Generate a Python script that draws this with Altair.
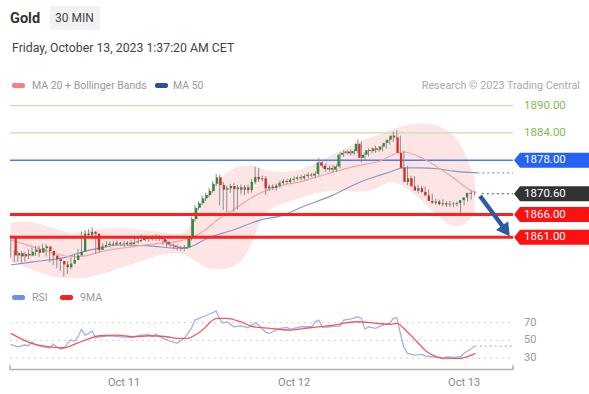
import altair as alt
import pandas as pd

# ---------------- data ----------------
first_open = 1861.2
closes = [
    1857.0, 1857.5, 1856.8, 1857.3, 1857.0, 1857.8, 1858.3, 1857.6, 1858.6, 1859.0,
    1858.0, 1857.0, 1856.2, 1855.8, 1855.0, 1854.4, 1855.2, 1856.0, 1857.0, 1857.8,
    1861.8, 1861.5, 1862.2, 1861.8, 1858.2, 1859.0, 1859.3, 1859.6, 1859.4, 1859.8,
    1859.6, 1859.5, 1859.8, 1859.5, 1859.9, 1860.1, 1860.4, 1860.9, 1860.6, 1861.0,
    1860.7, 1861.1, 1860.6, 1860.0, 1859.4, 1859.2, 1858.9, 1858.7, 1858.5, 1858.8,
    1860.8, 1865.0, 1867.5, 1868.5, 1869.6, 1870.3, 1871.2, 1872.8, 1874.2, 1872.5,
    1871.5, 1871.8, 1872.3, 1871.6, 1872.0, 1871.5, 1872.0, 1871.4, 1873.2, 1874.3,
    1873.8, 1874.0, 1871.8, 1872.2, 1871.9, 1872.4, 1873.0, 1873.4, 1873.2, 1873.7,
    1873.9, 1874.2, 1874.0, 1874.5, 1874.8, 1874.6, 1875.0, 1877.5, 1876.8, 1876.0,
    1876.3, 1875.9, 1876.6, 1879.2, 1879.6, 1879.9, 1879.5, 1880.0, 1881.6, 1878.5,
    1879.2, 1880.2, 1880.0, 1880.6, 1880.3, 1881.0, 1881.8, 1882.5, 1883.4, 1883.0,
    1879.6, 1876.3, 1873.2, 1874.0, 1872.2, 1871.3, 1871.8, 1871.0, 1870.2, 1869.0,
    1868.6, 1868.9, 1868.3, 1868.5, 1868.2, 1868.4, 1868.3, 1868.5, 1869.2, 1869.8,
    1870.8, 1870.6,
]
upper_wick = [
    0.3, 0.6, 0.5, 0.7, 0.5, 0.6, 0.5, 0.8, 0.5, 0.6,
    0.5, 0.4, 0.6, 0.5, 0.7, 0.5, 0.6, 0.5, 0.4, 0.6,
    0.5, 0.8, 0.6, 1.0, 0.6, 0.5, 0.4, 0.6, 0.5, 0.4,
    0.5, 0.4, 0.5, 0.4, 0.5, 0.6, 0.5, 0.7, 0.5, 0.4,
    0.5, 0.6, 0.4, 0.5, 0.4, 0.5, 0.4, 0.5, 0.4, 0.5,
    0.4, 0.5, 0.6, 0.5, 0.6, 0.5, 0.7, 0.6, 0.8, 0.6,
    0.7, 0.6, 0.5, 0.7, 0.5, 0.6, 0.5, 0.6, 0.7, 2.2,
    2.0, 0.6, 0.5, 0.4, 0.5, 0.4, 0.5, 0.4, 0.5, 0.4,
    0.5, 0.4, 0.5, 0.4, 0.5, 0.4, 0.5, 1.0, 0.5, 0.6,
    0.5, 0.6, 0.5, 0.5, 0.6, 0.4, 0.5, 0.4, 1.0, 0.5,
    0.5, 0.4, 0.6, 0.5, 0.5, 0.4, 0.5, 0.5, 0.9, 1.2,
    0.4, 0.5, 0.4, 0.6, 0.5, 0.4, 0.5, 0.4, 0.5, 0.4,
    0.5, 0.4, 0.5, 0.4, 0.5, 0.4, 0.5, 0.4, 0.5, 0.4,
    0.5, 0.4,
]
lower_wick = [
    0.5, 1.5, 1.2, 1.6, 1.3, 0.8, 1.0, 0.7, 0.9, 0.8,
    1.2, 1.5, 1.3, 1.6, 1.4, 2.0, 1.5, 1.2, 0.8, 0.6,
    0.6, 0.7, 0.5, 0.6, 0.8, 0.6, 0.5, 0.6, 0.5, 0.4,
    0.5, 0.4, 0.6, 0.4, 0.5, 0.4, 0.5, 0.4, 0.5, 0.6,
    0.4, 0.5, 0.4, 0.6, 0.5, 0.4, 0.5, 0.6, 0.5, 0.6,
    0.4, 0.5, 0.6, 0.5, 0.4, 0.6, 0.5, 0.4, 0.5, 4.5,
    4.5, 5.0, 1.0, 5.0, 4.5, 1.0, 1.2, 0.8, 0.6, 0.5,
    0.6, 0.5, 1.5, 0.6, 0.5, 0.6, 0.5, 0.4, 0.5, 0.4,
    0.5, 0.4, 0.5, 0.4, 0.5, 0.4, 0.5, 0.4, 0.5, 0.6,
    0.5, 0.6, 0.5, 0.4, 0.5, 0.4, 0.5, 0.4, 0.5, 1.0,
    0.5, 0.4, 0.5, 0.4, 0.5, 0.4, 0.5, 0.4, 0.5, 0.4,
    0.5, 0.6, 0.7, 0.6, 0.5, 0.6, 0.5, 0.6, 0.5, 0.6,
    0.5, 0.6, 0.5, 0.6, 0.5, 0.6, 0.5, 2.3, 0.5, 0.4,
    0.5, 0.4,
]

# moving averages / bands (candle index, price)
ma20_idx = [0, 5.5, 11, 17.3, 21, 25.2, 34.3, 42.2, 47.8, 50.6, 54.9, 58.3, 62.8, 68.4,
            72.4, 76.9, 81.7, 86.5, 93, 98.7, 104.3, 107.1, 110.8, 115.6, 120.4, 125, 129.7, 131.4]
ma20_val = [1860.4, 1859.1, 1857.8, 1856.7, 1856.9, 1857.8, 1858.9, 1859.7, 1860.2, 1860.8,
            1862.6, 1864.8, 1867.0, 1869.9, 1871.4, 1872.5, 1873.2, 1874.3, 1875.8, 1876.9,
            1877.8, 1878.9, 1879.8, 1878.7, 1876.5, 1874.1, 1871.4, 1870.8]

band_idx = [0, 5, 11, 17, 21, 25, 34, 42, 48, 51, 55, 58, 63, 66, 68, 70, 72, 77, 82, 87,
            93, 99, 104, 107, 111, 116, 120, 125, 128, 131]
band_upper = [1864.2, 1864.8, 1863.3, 1861.7, 1862.4, 1863.0, 1863.0, 1862.2, 1861.5, 1863.0,
              1869.9, 1873.6, 1876.5, 1876.8, 1876.9, 1876.4, 1875.8, 1875.2, 1875.8, 1877.6,
              1880.2, 1882.4, 1883.5, 1884.6, 1885.7, 1886.2, 1886.0, 1884.0, 1880.2, 1874.1]
band_lower = [1855.6, 1854.2, 1852.3, 1851.8, 1852.0, 1852.7, 1854.9, 1857.3, 1857.8, 1856.4,
              1854.2, 1853.8, 1854.2, 1856.4, 1859.7, 1863.7, 1867.0, 1868.6, 1869.7, 1871.0,
              1871.4, 1870.8, 1871.9, 1873.6, 1872.5, 1869.2, 1865.9, 1863.0, 1863.7, 1865.9]

ma50_idx = [0, 6.3, 16, 20.4, 25.2, 30, 39.3, 47, 50.6, 55.5, 62.8, 70.4, 77, 81.7, 91,
            98.7, 104.3, 107.1, 110.8, 115.6, 120.4, 125, 131.7]
ma50_val = [1854.9, 1855.6, 1856.7, 1857.8, 1858.6, 1859.3, 1859.1, 1858.6, 1858.9, 1860.8,
            1862.6, 1864.8, 1865.9, 1867.5, 1870.3, 1873.2, 1874.7, 1875.4, 1876.3, 1876.3,
            1876.1, 1875.6, 1875.2]

# RSI and its 9MA (candle index, value)
rsi_idx = [0, 2, 4, 5, 6, 7, 9, 10, 11, 12, 13, 14, 15, 16, 17, 18, 19, 20, 21, 22,
           23, 24, 25, 28, 31, 34, 35, 37, 39, 40, 41, 43, 45, 47, 49, 51, 52, 55, 58, 59,
           60, 61, 63, 65, 67, 69, 70, 72, 73, 75, 76, 78, 79, 80, 82, 83, 85, 86, 87, 88,
           90, 92, 93, 94, 96, 98, 99, 100, 101, 103, 105, 107, 108, 109, 110, 111, 112, 114, 116, 117,
           119, 121, 122, 123, 125, 127, 128, 130, 131]
rsi_val = [45.5, 42.7, 44.7, 43.9, 48.4, 44.7, 42.7, 42.0, 40.9, 45.8,
           42.7, 40.1, 40.9, 46.6, 50.3, 49.2, 54.1, 62.5, 56.0, 57.9,
           60.5, 52.9, 54.1, 55.2, 54.1, 53.4, 54.1, 56.0, 56.8, 54.1,
           56.8, 52.3, 49.2, 46.6, 52.3, 63.6, 73.0, 77.9, 83.2, 74.1,
           69.3, 71.1, 65.4, 66.5, 64.3, 70.0, 67.3, 59.1, 57.9, 61.7,
           63.6, 64.7, 62.5, 63.6, 65.4, 65.4, 65.4, 71.1, 73.0, 64.7,
           65.4, 66.2, 66.2, 73.0, 74.1, 76.7, 74.9, 62.5, 65.4, 63.6,
           67.3, 69.3, 74.9, 75.6, 58.0, 42.0, 35.3, 33.3, 34.1, 32.5,
           31.4, 30.3, 28.8, 31.4, 30.7, 31.4, 35.3, 40.5, 43.5]
ma9_idx = [0, 6.4, 11.1, 14.9, 18.6, 22.4, 25.2, 29.9, 34.6, 39.3, 44.1, 46.9, 49.7, 53.5,
           58.2, 61, 64.8, 68.5, 73.2, 78.9, 84.5, 91.1, 97.7, 103.4, 107.1, 109, 111.9,
           114.7, 117.5, 120.3, 124.1, 126.9, 128.8, 131.2]
ma9_val = [57.9, 46.0, 42.7, 41.6, 46.6, 52.3, 55.2, 56.0, 54.1, 55.2, 54.1, 52.3, 52.3, 59.7,
           74.9, 74.9, 71.1, 65.4, 63.6, 61.7, 64.3, 67.3, 71.1, 69.3, 68.1, 69.3, 59.7,
           48.4, 37.1, 31.4, 29.5, 29.5, 31.4, 35.3]

green_levels = [1890.0, 1884.0]
green_labels = ["1890.00", "1884.00"]
tag_levels = [1878.0, 1870.6, 1866.0, 1861.0]
tag_labels = ["1878.00", "1870.60", "1866.00", "1861.00"]
tag_colors = ["#2463f5", "#333333", "#ff1111", "#ff1111"]
red_levels = [1866.0, 1861.0]
blue_levels = [1878.0]
rsi_levels = [70, 50, 30]
day_hours = [0, 24, 48]
day_labels = ["Oct 11", "Oct 12", "Oct 13"]
arrow_h = [50.24, 53.6]
arrow_p = [1870.1, 1863.1]
arrow_head_h = [53.9]
arrow_head_p = [1862.4]

# ---------------- frames ----------------
def idx_to_h(i):
    return -16 + 0.5 * i

opens = [first_open] + closes[:-1]
candles = pd.DataFrame({
    "h": [idx_to_h(i) for i in range(len(closes))],
    "open": opens,
    "close": closes,
})
candles["high"] = [max(o, c) + u for o, c, u in zip(opens, closes, upper_wick)]
candles["low"] = [min(o, c) - l for o, c, l in zip(opens, closes, lower_wick)]

ma20 = pd.DataFrame({"h": [idx_to_h(i) for i in ma20_idx], "p": ma20_val})
band = pd.DataFrame({"h": [idx_to_h(i) for i in band_idx], "up": band_upper, "lo": band_lower})
ma50 = pd.DataFrame({"h": [idx_to_h(i) for i in ma50_idx], "p": ma50_val})
rsi = pd.DataFrame({"h": [idx_to_h(i) for i in rsi_idx], "r": rsi_val})
ma9 = pd.DataFrame({"h": [idx_to_h(i) for i in ma9_idx], "r": ma9_val})

X_SCALE = alt.Scale(domain=[-16.1, 54.9], range=[10, 513], nice=False, zero=False)
P_SCALE = alt.Scale(domain=[1861, 1890], range=[237.3, 105.7], nice=False, zero=False)
R_SCALE = alt.Scale(domain=[30, 70], range=[358, 322.7], nice=False, zero=False)
FONT = "Roboto"


def X(f):
    return alt.X(f, type="quantitative", scale=X_SCALE, axis=None)


def YP(f):
    return alt.Y(f, type="quantitative", scale=P_SCALE, axis=None)


def YR(f):
    return alt.Y(f, type="quantitative", scale=R_SCALE, axis=None)


def txt(s, x, y, size=11, color="#999999", weight="normal", align="left"):
    return alt.Chart(pd.DataFrame({"t": [s]})).mark_text(
        font=FONT, fontSize=size, color=color, fontWeight=weight, align=align, baseline="alphabetic"
    ).encode(x=alt.value(x), y=alt.value(y), text="t:N")


def rect(x, x2, y, y2, color, r=0):
    return alt.Chart(pd.DataFrame({"a": [0]})).mark_rect(color=color, cornerRadius=r).encode(
        x=alt.value(x), x2=alt.value(x2), y=alt.value(y), y2=alt.value(y2)
    )


layers = []

# header
layers.append(txt("Gold", 10, 23, size=14.5, color="#333333", weight="bold"))
layers.append(rect(50, 100, 6, 30, "#f2f2f2", 2))
layers.append(txt("30 MIN", 55, 22, size=12, color="#444444"))
layers.append(txt("Friday, October 13, 2023 1:37:20 AM CET", 12, 52, size=12.3, color="#444444"))

# legend
layers.append(rect(12, 25, 83, 88, "#f77f7f", 2))
layers.append(txt("MA 20 + Bollinger Bands", 32, 89, size=10.5, color="#9a9a9a"))
layers.append(rect(155, 168, 83, 88, "#2f4f9a", 2))
layers.append(txt("MA 50", 173, 89, size=10.5, color="#9a9a9a"))
layers.append(txt("Research \u00a9 2023 Trading Central", 580, 89, size=10.8, color="#aaaaaa", align="right"))

# bollinger cloud
layers.append(alt.Chart(band).mark_area(interpolate="basis", color="#fbd3d3", opacity=0.6).encode(
    x=X("h"), y=YP("up"), y2=alt.Y2("lo")))

# level lines
layers.append(alt.Chart(pd.DataFrame({"p": green_levels})).mark_rule(color="#c3e2ab", strokeWidth=1.2).encode(
    x=alt.value(10), x2=alt.value(513), y=YP("p")))
layers.append(alt.Chart(pd.DataFrame({"p": blue_levels})).mark_rule(color="#4b7cf0", strokeWidth=1.5).encode(
    x=alt.value(10), x2=alt.value(513), y=YP("p")))

# moving averages
layers.append(alt.Chart(ma50).mark_line(interpolate="monotone", color="#8199d0", strokeWidth=1.2).encode(
    x=X("h"), y=YP("p")))
layers.append(alt.Chart(ma20).mark_line(interpolate="monotone", color="#f5a3a3", strokeWidth=1.2).encode(
    x=X("h"), y=YP("p")))
layers.append(alt.Chart(ma50.tail(1)).mark_rule(color="#7d98d6", strokeWidth=1.2, strokeDash=[2, 3]).encode(
    x=X("h"), x2=alt.value(513), y=YP("p")))

# candles
layers.append(alt.Chart(candles).mark_rule(color="#8c8c8c", strokeWidth=1).encode(
    x=X("h"), y=YP("low"), y2=alt.Y2("high")))
layers.append(alt.Chart(candles).mark_bar(size=2.3).encode(
    x=X("h"), y=YP("open"), y2=alt.Y2("close"),
    color=alt.condition("datum.close >= datum.open", alt.value("#2f8a3a"), alt.value("#d42a2a"))))

# red support lines
layers.append(alt.Chart(pd.DataFrame({"p": red_levels})).mark_rule(color="#ff1f1f", strokeWidth=3).encode(
    x=alt.value(10), x2=alt.value(513), y=YP("p")))

# last price dotted
last = candles.tail(1).assign(h2=lambda d: d["h"] + 1.0)
layers.append(alt.Chart(last).mark_rule(color="#555555", strokeWidth=1.2, strokeDash=[2, 3]).encode(
    x=X("h2"), x2=alt.value(513), y=YP("close")))

# arrow
layers.append(alt.Chart(pd.DataFrame({"h": arrow_h, "p": arrow_p})).mark_line(
    color="#2c5ba3", strokeWidth=4.5, strokeCap="butt").encode(x=X("h"), y=YP("p")))
layers.append(alt.Chart(pd.DataFrame({"h": arrow_head_h, "p": arrow_head_p})).mark_point(
    shape="triangle-up", angle=144, size=230, filled=True, opacity=1, color="#2c5ba3").encode(
    x=X("h"), y=YP("p")))

# price labels
layers.append(alt.Chart(pd.DataFrame({"p": green_levels, "t": green_labels})).mark_text(
    font=FONT, fontSize=11.5, color="#7fbc4a", align="left", baseline="middle").encode(
    x=alt.value(524), y=YP("p"), text="t:N"))
TAG = "M-1,0L-0.84,-0.2L1,-0.2L1,0.2L-0.84,0.2Z"
tags = pd.DataFrame({"p": tag_levels, "t": tag_labels, "c": tag_colors})
layers.append(alt.Chart(tags).mark_point(shape=TAG, size=5625, filled=True, opacity=1, strokeWidth=0).encode(
    x=alt.value(551.5), y=YP("p"), color=alt.Color("c:N", scale=None)))
layers.append(alt.Chart(tags).mark_text(font=FONT, fontSize=11.5, color="white", align="left",
                                        baseline="middle").encode(
    x=alt.value(524), y=YP("p"), text="t:N"))

# RSI panel
layers.append(rect(12, 25, 295, 300, "#6f8fea", 2))
layers.append(txt("RSI", 32, 301, size=10.5, color="#9a9a9a"))
layers.append(rect(60, 73, 295, 300, "#ff2020", 2))
layers.append(txt("9MA", 80, 301, size=10.5, color="#9a9a9a"))
layers.append(alt.Chart(pd.DataFrame({"r": rsi_levels})).mark_rule(
    color="#cfcfcf", strokeWidth=1, strokeDash=[2, 4]).encode(
    x=alt.value(10), x2=alt.value(513), y=YR("r")))
layers.append(alt.Chart(pd.DataFrame({"r": rsi_levels, "t": [str(v) for v in rsi_levels]})).mark_text(
    font=FONT, fontSize=11, color="#999999", align="left", baseline="middle").encode(
    x=alt.value(524), y=YR("r"), text="t:N"))
layers.append(alt.Chart(rsi).mark_line(color="#9db2f2", strokeWidth=1.3).encode(x=X("h"), y=YR("r")))
layers.append(alt.Chart(rsi.tail(1)).mark_rule(color="#9db2f2", strokeWidth=1.2, strokeDash=[2, 3]).encode(
    x=X("h"), x2=alt.value(513), y=YR("r")))
layers.append(alt.Chart(ma9).mark_line(interpolate="monotone", color="#f25a5a", strokeWidth=1.3).encode(
    x=X("h"), y=YR("r")))

# time axis
layers.append(alt.Chart(pd.DataFrame({"a": [0]})).mark_rule(color="#b0b0b0", strokeWidth=1.5).encode(
    x=alt.value(10), x2=alt.value(513), y=alt.value(369.5)))
layers.append(alt.Chart(pd.DataFrame({"x": [10, 513]})).mark_rule(color="#b0b0b0", strokeWidth=1.5).encode(
    x=alt.X("x:Q", scale=None, axis=None), y=alt.value(365), y2=alt.value(370)))
layers.append(alt.Chart(pd.DataFrame({"h": day_hours, "t": day_labels})).mark_text(
    font=FONT, fontSize=11, color="#888888", align="center", baseline="alphabetic").encode(
    x=X("h"), y=alt.value(386), text="t:N"))

chart = alt.layer(*layers).resolve_scale(x="independent", y="independent", color="independent").properties(
    width=589, height=394, autosize=alt.AutoSizeParams(type="none"), padding=0
).configure_view(strokeWidth=0)

chart.save("out.html", embed_options={"renderer": "svg", "actions": False})
